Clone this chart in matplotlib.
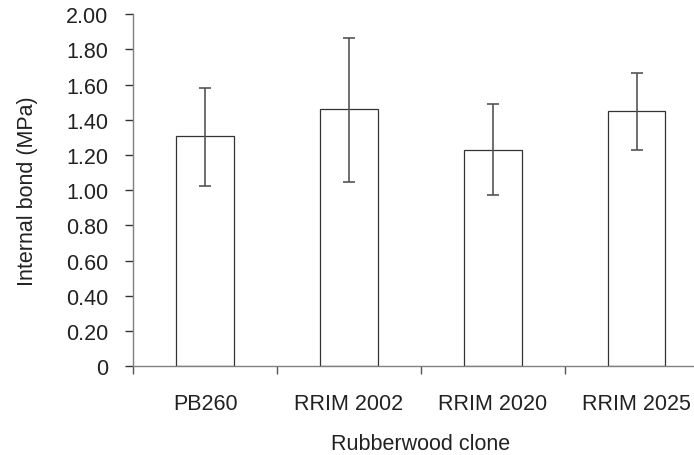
import numpy as np
import matplotlib
matplotlib.use("Agg")
import matplotlib.pyplot as plt

plt.rcParams['font.family'] = ['Liberation Sans', 'DejaVu Sans']

clones = ["PB260", "RRIM 2002", "RRIM 2020", "RRIM 2025"]
mean_ib = [1.309, 1.460, 1.230, 1.451]
err_low = [1.024, 1.047, 0.973, 1.228]
err_high = [1.579, 1.862, 1.489, 1.664]

x = np.arange(len(clones))
mean = np.array(mean_ib)
yerr = [mean - np.array(err_low), np.array(err_high) - mean]

fig = plt.figure(figsize=(6.94, 4.56), dpi=100)
ax = fig.add_axes([0.192, 0.1945, 0.829, 0.7725])

ax.bar(x, mean, width=0.4, color="white", edgecolor="#333333", linewidth=0.9, zorder=2)
ax.errorbar(x, mean, yerr=yerr, fmt="none", ecolor="#555555", elinewidth=1.2,
            capsize=4, capthick=1.2, zorder=3)

ax.set_xlim(-0.5, 3.5)
ax.set_ylim(0, 2.0)
ax.set_yticks(np.arange(0, 2.01, 0.2))
ax.set_yticklabels(["0"] + ["%.2f" % v for v in np.arange(0.2, 2.01, 0.2)])

ax.set_xticks(np.arange(-0.5, 3.6, 1.0))
ax.set_xticklabels([])
ax.set_xticks(x, minor=True)
ax.set_xticklabels(clones, minor=True)

for s in ["top", "right"]:
    ax.spines[s].set_visible(False)
for s in ["left", "bottom"]:
    ax.spines[s].set_color("#808080")
    ax.spines[s].set_linewidth(1.0)
ax.spines["bottom"].set_clip_on(False)

ax.tick_params(axis="y", which="major", direction="out", length=6, width=1,
               color="#333333", labelsize=15.5, labelcolor="#222222", pad=12)
ax.tick_params(axis="x", which="major", direction="out", length=6, width=1,
               color="#555555")
ax.tick_params(axis="x", which="minor", length=0, labelsize=15.5,
               labelcolor="#222222", pad=19)

ax.set_xlabel("Rubberwood clone", fontsize=15.5, color="#222222", labelpad=14)
ax.set_ylabel("Internal bond (MPa)", fontsize=15.5, color="#222222", labelpad=20)

fig.savefig("out.png", dpi=100)
